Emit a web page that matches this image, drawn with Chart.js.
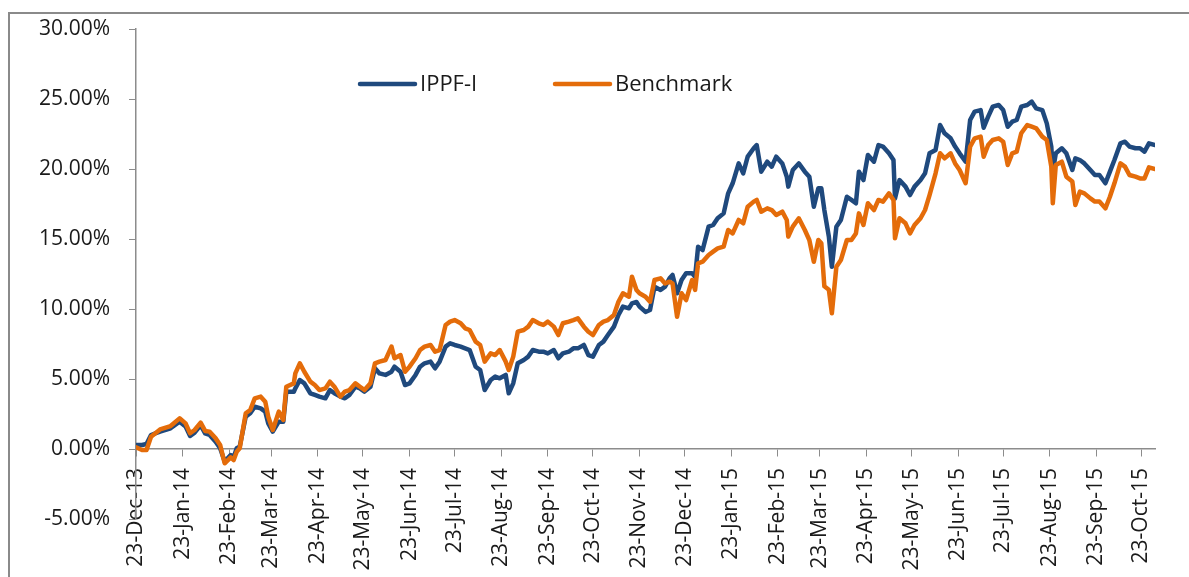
<!DOCTYPE html>
<html>
<head>
<meta charset="utf-8">
<title>IPPF-I vs Benchmark</title>
<script src="https://cdn.jsdelivr.net/npm/chart.js@4/dist/chart.umd.min.js"></script>
<style>
  html, body { margin: 0; padding: 0; background: #fff; }
  #wrap { width: 1189px; height: 577px; }
</style>
</head>
<body>
<div id="wrap"><canvas id="perf" width="1189" height="577"></canvas></div>
<script>
// days since 23-Dec-13 (roughly every 3-4 days)
const days = [0,4,7,10,16,23,29,33,36,39,43,46,49,53,56,59,63,65,67,69,73,76,79,83,86,88,91,95,98,100,
  105,106,109,112,116,119,122,126,129,132,136,139,142,146,149,152,156,159,162,166,170,172,176,179,182,186,189,192,196,199,
  202,206,209,212,216,219,222,226,229,232,236,239,242,246,248,251,254,258,261,264,268,271,274,278,281,284,288,291,294,298,
  301,304,308,311,314,318,321,324,328,330,333,335,339,342,345,349,352,355,357,360,363,366,370,372,374,377,381,384,387,391,
  394,397,401,404,407,411,413,416,420,423,426,430,433,434,437,441,445,448,451,454,456,458,461,463,466,469,473,476,479,481,
  484,487,491,494,497,501,504,505,508,512,515,518,522,525,528,532,535,538,542,545,548,552,555,558,562,564,567,570,574,577,
  580,583,586,589,593,596,599,603,606,609,610,612,616,619,623,625,628,631,635,638,641,645,648,651,655,658,661,665,668,671,
  674,678];

// cumulative return, %
const ippf = [0.29,0.29,0.36,1.00,1.24,1.48,1.95,1.60,0.93,1.17,1.71,1.12,1.00,0.52,0.05,-0.90,-0.43,-0.60,0.05,0.17,2.31,2.55,3.02,2.90,2.67,1.83,1.24,1.95,1.95,4.09,
  4.09,4.33,4.93,4.69,3.98,3.86,3.74,3.62,4.21,3.98,3.74,3.62,3.86,4.45,4.33,4.10,4.45,5.76,5.40,5.29,5.52,5.88,5.52,4.57,4.69,5.29,5.88,6.12,6.24,5.76,
  6.24,7.31,7.55,7.43,7.31,7.19,7.07,5.88,5.64,4.21,4.93,5.17,5.05,5.29,3.98,4.69,6.12,6.36,6.60,7.07,6.95,6.95,6.83,7.07,6.48,6.83,6.95,7.19,7.19,7.43,
  6.71,6.60,7.43,7.67,8.14,8.74,9.57,10.17,10.05,10.40,10.50,10.17,9.79,9.93,11.60,11.36,11.60,12.19,12.43,11.12,12.07,12.55,12.55,12.31,14.45,14.21,15.88,16.00,16.48,16.83,
  18.26,18.98,20.40,19.69,20.88,21.48,21.71,19.81,20.52,20.17,20.88,20.40,19.45,18.74,19.93,20.40,19.81,19.45,17.31,18.62,18.62,17.07,15.17,13.02,15.88,16.36,18.02,17.79,17.55,19.81,
  19.21,21.00,20.52,21.71,21.60,21.12,20.64,17.90,19.21,18.74,18.14,18.74,19.21,19.69,21.12,21.36,23.14,22.55,22.19,21.60,21.12,20.52,23.50,24.10,24.21,22.95,23.74,24.45,24.57,24.21,
  23.02,23.38,23.50,24.45,24.57,24.81,24.33,24.21,23.26,21.60,19.81,21.12,21.48,21.12,19.93,20.76,20.64,20.40,19.93,19.57,19.57,18.98,19.81,20.64,21.83,21.95,21.60,21.48,21.48,21.24,
  21.83,21.71];

const bench = [0.12,-0.07,-0.07,0.88,1.40,1.64,2.19,1.83,1.12,1.36,1.88,1.29,1.24,0.76,0.29,-1.02,-0.60,-0.79,-0.19,0.05,2.55,2.79,3.62,3.74,3.38,2.31,1.36,2.67,2.07,4.45,
  4.69,5.40,6.12,5.52,4.81,4.57,4.21,4.33,4.81,4.45,3.74,4.10,4.21,4.69,4.45,4.21,4.69,6.12,6.24,6.36,7.31,6.48,6.71,5.52,5.88,6.48,7.07,7.31,7.43,6.95,
  7.07,8.86,9.10,9.21,8.98,8.62,8.50,7.67,7.43,6.24,6.83,6.71,7.07,6.24,5.64,6.60,8.38,8.50,8.74,9.21,8.98,8.86,9.10,8.74,8.14,8.98,9.10,9.21,9.33,8.74,
  8.38,8.14,8.86,9.10,9.21,9.57,10.52,11.12,10.88,12.31,11.36,11.12,10.88,10.52,12.07,12.19,11.83,11.95,11.83,9.45,11.12,10.64,12.07,11.36,13.26,13.38,13.86,14.10,14.33,14.45,
  15.64,15.40,16.36,16.12,17.31,17.67,17.79,16.95,17.19,17.07,16.71,16.95,16.36,15.17,15.88,16.48,15.64,14.93,13.38,14.93,14.69,11.62,11.38,9.69,13.02,13.50,14.93,14.93,15.40,16.83,
  16.00,17.55,17.07,17.79,17.67,18.26,17.79,15.05,16.48,16.12,15.40,16.00,16.48,17.07,18.14,19.69,21.12,20.76,21.12,20.40,19.93,18.98,21.60,22.19,22.31,20.88,21.71,22.07,22.19,21.95,
  20.29,21.12,21.24,22.55,23.14,23.02,22.90,22.31,22.07,20.17,17.55,20.29,20.52,19.45,19.10,17.43,18.38,18.26,17.90,17.67,17.67,17.19,18.02,18.98,20.40,20.17,19.57,19.45,19.33,19.33,
  20.12,20.00];

// x-axis ticks: the 23rd of each month
const tickDays = [0,31,62,90,121,151,182,212,243,274,304,335,365,396,427,455,486,516,547,577,608,639,669];
const tickLabels = ["23-Dec-13","23-Jan-14","23-Feb-14","23-Mar-14","23-Apr-14","23-May-14","23-Jun-14","23-Jul-14",
  "23-Aug-14","23-Sep-14","23-Oct-14","23-Nov-14","23-Dec-14","23-Jan-15","23-Feb-15","23-Mar-15","23-Apr-15",
  "23-May-15","23-Jun-15","23-Jul-15","23-Aug-15","23-Sep-15","23-Oct-15"];

const seriesNames = ["IPPF-I", "Benchmark"];
const BLUE = "#1f497d", ORANGE = "#e46c0a";
const FONT = "'Open Sans', sans-serif";
const AXIS = "#8c8c8c";

const pts = arr => days.map((d, i) => ({x: d, y: arr[i]}));

// outer frame of the original chart box
const framePlugin = {
  id: "frame",
  beforeDraw(chart){
    const ctx = chart.ctx;
    ctx.save();
    ctx.strokeStyle = "#8a8a8a";
    ctx.lineWidth = 2;
    ctx.beginPath();
    ctx.moveTo(9, chart.height);
    ctx.lineTo(9, 13);
    ctx.lineTo(chart.width, 13);
    ctx.stroke();
    ctx.restore();
  }
};

// legend sits inside the plot, drawn by hand
const legendPlugin = {
  id: "insideLegend",
  afterDraw(chart){
    const {ctx, chartArea} = chart;
    const y = chartArea.top + 55;
    const starts = [chartArea.left + 224, chartArea.left + 419];
    ctx.save();
    ctx.font = "22px " + FONT;
    ctx.textBaseline = "middle";
    chart.data.datasets.forEach((ds, i) => {
      const x = starts[i];
      ctx.strokeStyle = ds.borderColor;
      ctx.lineWidth = 4.5;
      ctx.lineCap = "round";
      ctx.beginPath(); ctx.moveTo(x, y); ctx.lineTo(x + 55, y); ctx.stroke();
      ctx.fillStyle = "#1a1a1a";
      ctx.fillText(ds.label, x + 60, y + 1);
    });
    ctx.restore();
  }
};

new Chart(document.getElementById("perf"), {
  type: "line",
  data: {
    datasets: [
      { label: seriesNames[0], data: pts(ippf), borderColor: BLUE, order: 1 },
      { label: seriesNames[1], data: pts(bench), borderColor: ORANGE, order: 0 }
    ]
  },
  options: {
    responsive: false,
    animation: false,
    parsing: false,
    layout: { padding: { left: 0, top: 29, right: 34, bottom: 58 } },
    elements: {
      point: { radius: 0 },
      line: { borderWidth: 4.5, tension: 0, borderJoinStyle: "round", borderCapStyle: "round" }
    },
    plugins: { legend: { display: false }, tooltip: { enabled: false } },
    scales: {
      x: {
        type: "linear",
        min: 0, max: 678,
        position: { y: 0 },
        afterBuildTicks: s => { s.ticks = tickDays.map(v => ({value: v})); },
        afterFit: s => { s.paddingLeft = 0; s.paddingRight = 0; },
        grid: { drawOnChartArea: false, drawTicks: true, tickLength: 7, color: AXIS },
        border: { display: true, color: AXIS, width: 1.5 },
        ticks: {
          autoSkip: false, minRotation: 90, maxRotation: 90, padding: 12,
          color: "#1a1a1a", font: { family: FONT, size: 21 },
          callback: v => tickLabels[tickDays.indexOf(v)] || ""
        }
      },
      y: {
        min: -5, max: 30,
        afterFit: s => { s.width = 136; s.paddingTop = 0; s.paddingBottom = 0; },
        grid: { drawOnChartArea: false, drawTicks: true, tickLength: 7, color: AXIS },
        border: { display: true, color: AXIS, width: 1.5 },
        ticks: {
          stepSize: 5, padding: 19,
          color: "#1a1a1a", font: { family: FONT, size: 21 },
          callback: v => v.toFixed(2) + "%"
        }
      }
    }
  },
  plugins: [framePlugin, legendPlugin]
});
</script>
</body>
</html>
